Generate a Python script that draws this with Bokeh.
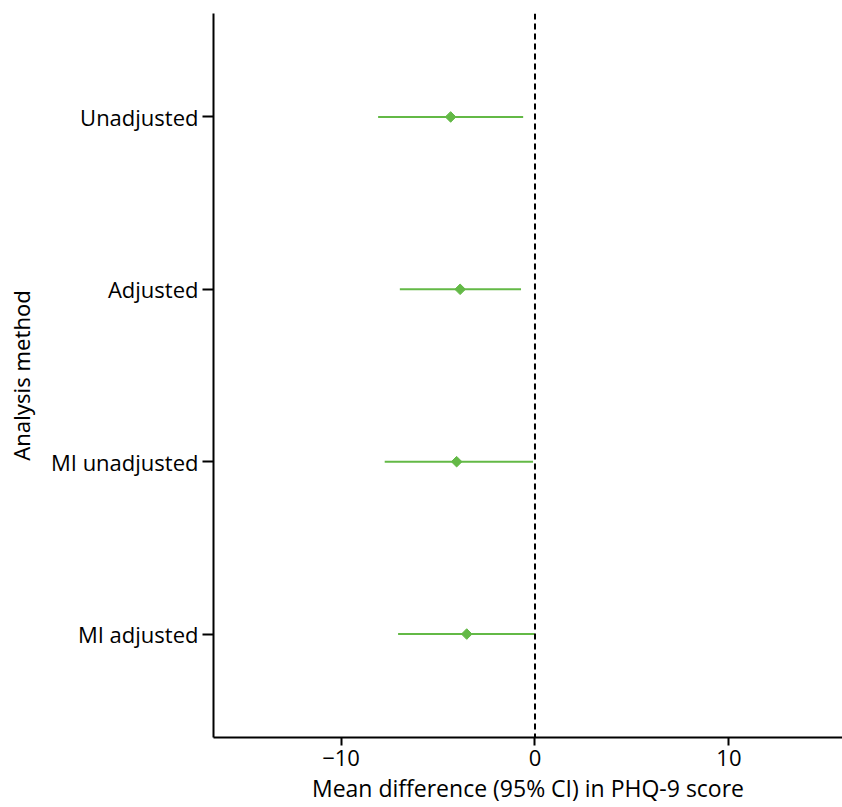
from bokeh.plotting import figure
from bokeh.models import FixedTicker, Span, ColumnDataSource
from bokeh.embed import file_html
from bokeh.resources import INLINE
import math

# Forest plot: mean difference in PHQ-9 score by analysis method
methods = ["Unadjusted", "Adjusted", "MI unadjusted", "MI adjusted"]
mean_diff = [-4.35, -3.86, -4.04, -3.52]
ci_low = [-8.09, -6.97, -7.75, -7.06]
ci_high = [-0.61, -0.72, -0.10, -0.03]
x_ticks = [-10, 0, 10]
x_tick_labels = ["\u221210", "0", "10"]

ypos = [len(methods) - i for i in range(len(methods))]
Y_MIN, Y_MAX = 0.4, 4.6

src = ColumnDataSource(dict(y=ypos, est=mean_diff, lo=ci_low, hi=ci_high))

FONT = "Open Sans"
GREEN = "#63b946"

p = figure(width=842, height=807, output_backend="svg", toolbar_location=None,
           x_range=(-16.58, 15.86), y_range=(Y_MIN, Y_MAX),
           min_border_left=213, min_border_right=0, min_border_top=13,
           min_border_bottom=70)
p.outline_line_color = None
p.xgrid.visible = False
p.ygrid.visible = False
p.background_fill_color = "white"
p.border_fill_color = "white"

# zero reference line
p.add_layout(Span(location=0, dimension="height", line_color="black",
                  line_width=2, line_dash="6 4"))

p.segment(x0="lo", x1="hi", y0="y", y1="y", source=src,
          line_color=GREEN, line_width=2)
p.scatter(x="est", y="y", source=src, marker="square", size=7.5,
          angle=math.pi / 4, fill_color=GREEN, line_color=GREEN)

# x axis
p.xaxis.ticker = FixedTicker(ticks=x_ticks)
p.xaxis.major_label_overrides = {t: s for t, s in zip(x_ticks, x_tick_labels)}
p.xaxis.minor_tick_line_color = None
p.xaxis.major_tick_in = 0
p.xaxis.major_tick_out = 8
p.xaxis.major_tick_line_width = 2
p.xaxis.axis_line_width = 2
p.xaxis.major_label_text_font = FONT
p.xaxis.major_label_text_font_size = "22px"
p.xaxis.major_label_text_color = "black"
p.xaxis.major_label_standoff = 4
p.xaxis.axis_label = "Mean difference (95% CI) in PHQ-9 score"
p.xaxis.axis_label_text_font = FONT
p.xaxis.axis_label_text_font_size = "23px"
p.xaxis.axis_label_text_font_style = "normal"
p.xaxis.axis_label_text_color = "black"
p.xaxis.axis_label_standoff = 3

# y axis
p.yaxis.ticker = FixedTicker(ticks=ypos)
p.yaxis.major_label_overrides = {y: m for y, m in zip(ypos, methods)}
p.yaxis.minor_tick_line_color = None
p.yaxis.major_tick_in = 0
p.yaxis.major_tick_out = 11
p.yaxis.major_tick_line_width = 2
p.yaxis.axis_line_width = 2
p.yaxis.major_label_text_font = FONT
p.yaxis.major_label_text_font_size = "22px"
p.yaxis.major_label_text_color = "black"
p.yaxis.major_label_standoff = 4
p.yaxis.axis_label = "Analysis method"
p.yaxis.axis_label_text_font = "Noto Sans"
p.yaxis.axis_label_text_font_size = "22px"
p.yaxis.axis_label_text_font_style = "normal"
p.yaxis.axis_label_text_color = "black"
p.yaxis.axis_label_standoff = 12

open("out.html", "w").write(file_html(p, INLINE))
